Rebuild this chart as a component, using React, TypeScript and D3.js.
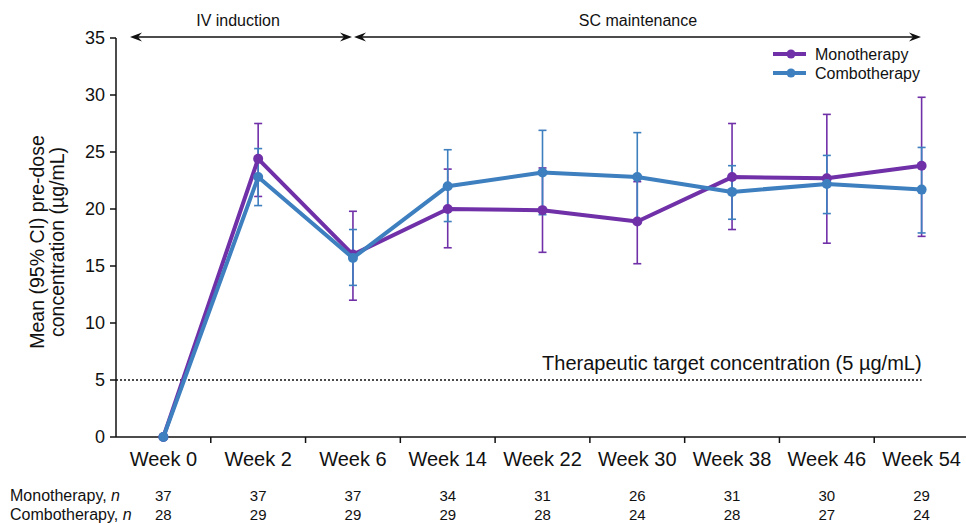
import React from "react";
import * as d3 from "d3";

const weeks = ["Week 0", "Week 2", "Week 6", "Week 14", "Week 22", "Week 30", "Week 38", "Week 46", "Week 54"];
const monoMean = [0, 24.4, 16.0, 20.0, 19.9, 18.9, 22.8, 22.7, 23.8];
const monoLow = [0, 21.1, 12.0, 16.6, 16.2, 15.2, 18.2, 17.0, 17.6];
const monoHigh = [0, 27.5, 19.8, 23.5, 23.6, 22.4, 27.5, 28.3, 29.8];
const comboMean = [0, 22.8, 15.7, 22.0, 23.2, 22.8, 21.5, 22.2, 21.7];
const comboLow = [0, 20.3, 13.3, 18.9, 19.5, 19.0, 19.1, 19.6, 17.9];
const comboHigh = [0, 25.3, 18.2, 25.2, 26.9, 26.7, 23.8, 24.7, 25.4];
const monoN = [37, 37, 37, 34, 31, 26, 31, 30, 29];
const comboN = [28, 29, 29, 29, 28, 24, 28, 27, 24];
const yTicks = [0, 5, 10, 15, 20, 25, 30, 35];
const targetLevel = 5;

const W = 966;
const H = 523;
const font = "'Liberation Sans', Arial, Helvetica, sans-serif";
const purple = "#7030a8";
const blue = "#3d7fbf";

const Arrow = ({ x1, x2, y }: { x1: number; x2: number; y: number }) => {
  // double-headed arrow with concave heads
  const head = (tip: number, dir: number) =>
    `M${tip},${y} L${tip + dir * 12},${y - 4.5} L${tip + dir * 8},${y} L${tip + dir * 12},${y + 4.5} Z`;
  return (
    <g>
      <line x1={x1 + 6} x2={x2 - 6} y1={y} y2={y} stroke="#111" strokeWidth={1.6} />
      <path d={head(x1, 1)} fill="#111" />
      <path d={head(x2, -1)} fill="#111" />
    </g>
  );
};

export default function App() {
  const x = d3.scaleBand<string>().domain(weeks).range([116, 969]);
  const y = d3.scaleLinear().domain([0, 35]).range([437, 38]);
  const cx = (i: number) => (x(weeks[i]) as number) + x.bandwidth() / 2;

  const line = d3
    .line<number>()
    .x((_, i) => cx(i))
    .y((d) => y(d));

  const series = [
    { name: "Monotherapy", color: purple, mean: monoMean, low: monoLow, high: monoHigh },
    { name: "Combotherapy", color: blue, mean: comboMean, low: comboLow, high: comboHigh },
  ];

  return (
    <svg width={W} height={H} style={{ position: "absolute", left: 0, top: 0, background: "white" }} fontFamily={font}>
      {/* phase arrows */}
      <Arrow x1={130} x2={352} y={37} />
      <Arrow x1={354} x2={921} y={37} />
      <text x={238} y={26} textAnchor="middle" fontSize={16} fill="#111">IV induction</text>
      <text x={638} y={26} textAnchor="middle" fontSize={16} fill="#111">SC maintenance</text>

      {/* y axis */}
      <line x1={116} x2={116} y1={y(35)} y2={y(0)} stroke="#111" strokeWidth={1.5} />
      {yTicks.map((t) => (
        <g key={t}>
          <line x1={110} x2={116} y1={y(t)} y2={y(t)} stroke="#111" strokeWidth={1.5} />
          <text x={105} y={y(t)} dy="0.35em" textAnchor="end" fontSize={18} fill="#111">{t}</text>
        </g>
      ))}
      <text transform={`translate(44,242) rotate(-90)`} textAnchor="middle" fontSize={19.5} fill="#111">
        Mean (95% CI) pre-dose
      </text>
      <text transform={`translate(64,242) rotate(-90)`} textAnchor="middle" fontSize={19.5} fill="#111">
        concentration (µg/mL)
      </text>

      {/* x axis */}
      <line x1={116} x2={W} y1={y(0)} y2={y(0)} stroke="#111" strokeWidth={1.5} />
      {weeks.map((w, i) => (
        <g key={w}>
          {i > 0 && (
            <line x1={x(w)} x2={x(w)} y1={y(0)} y2={y(0) + 6} stroke="#111" strokeWidth={1.5} />
          )}
          <text x={cx(i)} y={466} textAnchor="middle" fontSize={20} fill="#111">{w}</text>
          <text x={cx(i)} y={501} textAnchor="middle" fontSize={15} fill="#111">{monoN[i]}</text>
          <text x={cx(i)} y={520} textAnchor="middle" fontSize={15} fill="#111">{comboN[i]}</text>
        </g>
      ))}
      <text x={10} y={501} fontSize={16} fill="#111">
        Monotherapy, <tspan fontStyle="italic">n</tspan>
      </text>
      <text x={10} y={520} fontSize={16} fill="#111">
        Combotherapy, <tspan fontStyle="italic">n</tspan>
      </text>

      {/* therapeutic target */}
      <line
        x1={116}
        x2={cx(8)}
        y1={y(targetLevel)}
        y2={y(targetLevel)}
        stroke="#111"
        strokeWidth={1.3}
        strokeDasharray="2,2"
      />
      <text x={cx(8)} y={y(targetLevel) - 10} textAnchor="end" fontSize={20} fill="#111">
        Therapeutic target concentration (5 µg/mL)
      </text>

      {/* error bars */}
      {series.map((s) => (
        <g key={s.name + "err"} stroke={s.color} strokeWidth={1.6}>
          {s.mean.map((m, i) =>
            i === 0 ? null : (
              <g key={i}>
                <line x1={cx(i)} x2={cx(i)} y1={y(s.low[i])} y2={y(s.high[i])} />
                <line x1={cx(i) - 4} x2={cx(i) + 4} y1={y(s.low[i])} y2={y(s.low[i])} />
                <line x1={cx(i) - 4} x2={cx(i) + 4} y1={y(s.high[i])} y2={y(s.high[i])} />
              </g>
            )
          )}
        </g>
      ))}

      {/* lines */}
      {series.map((s) => (
        <g key={s.name}>
          <path d={line(s.mean) as string} fill="none" stroke={s.color} strokeWidth={4} strokeLinejoin="round" />
          {s.mean.map((m, i) => (
            <circle key={i} cx={cx(i)} cy={y(m)} r={5} fill={s.color} />
          ))}
        </g>
      ))}

      {/* legend */}
      {series.map((s, i) => (
        <g key={s.name + "leg"} transform={`translate(773,${54 + i * 19})`}>
          <line x1={0} x2={33} y1={0} y2={0} stroke={s.color} strokeWidth={4} />
          <circle cx={18} cy={0} r={4.5} fill={s.color} />
          <text x={42} y={0} dy="0.35em" fontSize={16} fill="#111">{s.name}</text>
        </g>
      ))}
    </svg>
  );
}
